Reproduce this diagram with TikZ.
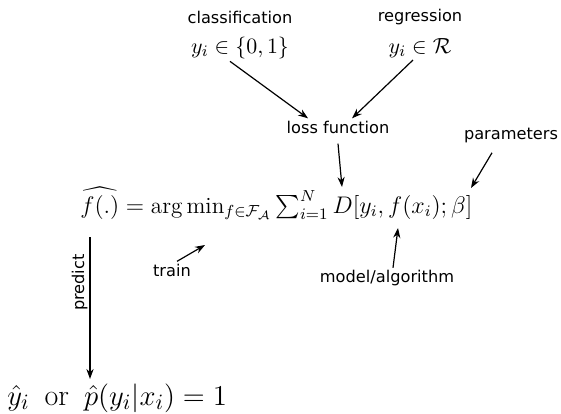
\documentclass[tikz,border=0pt]{standalone}
\usepackage{amsmath,amssymb}
\usepackage{fontspec}
\newfontfamily\lblfont{DejaVu Sans}
\usepackage{tikz}
\usetikzlibrary{arrows.meta,positioning}

\begin{document}
\begin{tikzpicture}[
  x=0.5pt,y=-0.5pt,
  lbl/.style={font=\lblfont\fontsize{8.1}{9.7}\selectfont,inner sep=1pt},
  mth/.style={font=\fontsize{11.1}{13.3}\selectfont,inner sep=1pt},
  objmth/.style={font=\fontsize{11.6}{13.9}\selectfont,inner sep=0pt},
  bigmth/.style={font=\fontsize{15}{18}\selectfont,inner sep=0pt},
  arr/.style={-{Stealth[length=5pt,width=3.6pt]},semithick}
]
\useasboundingbox (0,0) rectangle (561,413);

% task type
\node[lbl] (cls)  at (240,17) {classification};
\node[mth] (clsy) at (240,48) {$y_i\in\{0,1\}$};
\node[lbl] (reg)  at (420,17) {regression};
\node[mth] (regy) at (420,48) {$y_i\in\mathcal{R}$};

\node[lbl] (loss) at (338,127) {loss function};
\node[lbl] (par)  at (511,135) {parameters};

% objective
\node[objmth,anchor=base west] (obj) at (80,213)
  {$\widehat{f(.)}=\arg\min_{f\in\mathcal{F}_{\mathcal{A}}}\sum_{i=1}^{N}D[y_i,f(x_i);\beta]$};
\node[bigmth,anchor=base west] (yhat) at (7,405)
  {$\hat{y}_i\hspace{0.5em}\text{or}\hspace{0.5em}\hat{p}(y_i|x_i)=1$};

\node[lbl] (train) at (172,270) {train};
\node[lbl] (model) at (387,278) {model/algorithm};

\coordinate (minTip)  at (205,245);
\coordinate (fTip)    at (398,228);
\coordinate (dTip)    at (342,187);
\coordinate (betaTip) at (471,188);
\coordinate (fhatBot) at (90,237);

\draw[arr] ([xshift=-5pt]clsy.south) -- ([xshift=-15pt]loss.north);
\draw[arr] ([xshift=-3.5pt]regy.south) -- ([xshift=7pt]loss.north);
\draw[arr] ([yshift=-4pt]loss.south) -- (dTip);
\draw[arr] ([shift={(-9.5pt,-4pt)}]par.south) -- (betaTip);
\draw[arr] ([xshift=2.5pt]train.north) -- (minTip);
\draw[arr] ([xshift=3pt]model.north) -- (fTip);
\draw[arr] (fhatBot) -- ([yshift=2pt]fhatBot |- yhat.north)
  node[lbl,rotate=90,pos=0.42,above=7pt]{predict};
\end{tikzpicture}
\end{document}
